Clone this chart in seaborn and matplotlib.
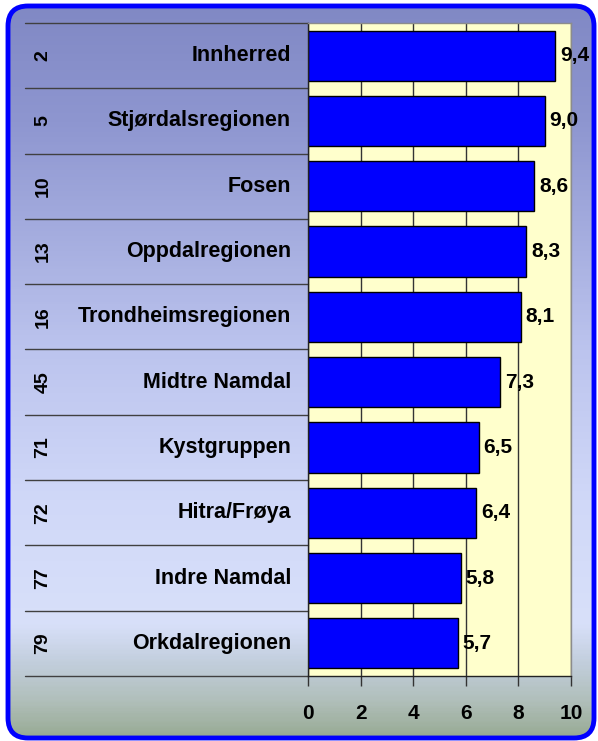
import numpy as np
import seaborn as sns
import matplotlib.pyplot as plt
import matplotlib.transforms as mtransforms
from matplotlib.patches import FancyBboxPatch
from matplotlib.colors import LinearSegmentedColormap

# --- data ---
ranks = ["2", "5", "10", "13", "16", "45", "71", "72", "77", "79"]
regions = ["Innherred", "Stjørdalsregionen", "Fosen", "Oppdalregionen",
           "Trondheimsregionen", "Midtre Namdal", "Kystgruppen", "Hitra/Frøya",
           "Indre Namdal", "Orkdalregionen"]
scores = [9.4, 9.0, 8.6, 8.3, 8.1, 7.3, 6.5, 6.4, 5.8, 5.7]
x_ticks = [0, 2, 4, 6, 8, 10]

sns.set_theme(style="white")
plt.rcParams['font.family'] = ['Liberation Sans', 'DejaVu Sans']
plt.rcParams['text.color'] = 'black'
plt.rcParams['xtick.color'] = 'black'
plt.rcParams['xtick.labelcolor'] = 'black'

W, H = 598, 741
fig = plt.figure(figsize=(W / 100, H / 100), dpi=100)
fig.patch.set_facecolor("white")

# --- background panel with gradient and rounded blue frame ---
bg = fig.add_axes([0, 0, 1, 1], zorder=0)
bg.set_xlim(0, W)
bg.set_ylim(H, 0)
bg.axis("off")

stops = [(0.0, "#8088c4"), (120 / H, "#8e96d0"), (350 / H, "#bcc4ee"),
         (500 / H, "#d0d8f8"), (625 / H, "#d8e0fa"), (665 / H, "#c2cedc"),
         (705 / H, "#afbeb8"), (1.0, "#96a992")]
cmap = LinearSegmentedColormap.from_list("panel", stops)
grad = np.linspace(0, 1, 400).reshape(-1, 1)
img = bg.imshow(grad, cmap=cmap, aspect="auto", extent=(0, W, H, 0))

frame = FancyBboxPatch((8, 6), W - 12, H - 9,
                       boxstyle="round,pad=0,rounding_size=20",
                       facecolor="none", edgecolor="#0000ff", linewidth=3.5)
bg.add_patch(frame)
img.set_clip_path(frame)

# --- bar chart ---
left, right, top, bottom = 308, 571, 23, 676
ax = fig.add_axes([left / W, (H - bottom) / H, (right - left) / W, (bottom - top) / H], zorder=1)
ax.set_facecolor("#ffffcc")

sns.barplot(x=scores, y=regions, orient="h", color="#0000ff", saturation=1,
            edgecolor="black", linewidth=1, width=0.77, ax=ax)

ax.set_xlim(0, 10)
ax.set_ylim(9.5, -0.5)
ax.set_xticks(x_ticks)
ax.set_xticklabels([str(t) for t in x_ticks], fontsize=15, fontweight="bold")
ax.tick_params(axis="x", direction="out", length=7, width=1, color="#333333",
               labelcolor="black", pad=13, bottom=True)
ax.set_yticks([])
ax.set_xlabel("")
ax.set_ylabel("")

ax.set_axisbelow(True)
ax.xaxis.grid(True, color="#333333", linewidth=1)
ax.yaxis.grid(False)
for side in ["top", "right"]:
    ax.spines[side].set_color("#8c8c8c")
    ax.spines[side].set_linewidth(1)
for side in ["left", "bottom"]:
    ax.spines[side].set_color("#222222")
    ax.spines[side].set_linewidth(1)

# value labels
for i, v in enumerate(scores):
    ax.text(v + 0.18, i, f"{v:.1f}".replace(".", ","), ha="left", va="center",
            fontsize=15, fontweight="bold", color="black", zorder=5)

# table on the left: ranks, region names, separators
trans = mtransforms.blended_transform_factory(fig.transFigure, ax.transData)
for i, (rk, name) in enumerate(zip(ranks, regions)):
    ax.text(291 / W, i, name, transform=trans, ha="right", va="center",
            fontsize=15.5, fontweight="bold", color="black", clip_on=False)
    ax.text(43 / W, i, rk, transform=trans, ha="center", va="center",
            fontsize=14, fontweight="bold", color="black", rotation=90, clip_on=False)

for b in np.arange(-0.5, len(regions), 1.0):
    ax.plot([25 / W, left / W], [b, b], transform=trans, color="#404040",
            linewidth=1, clip_on=False)

fig.savefig("out.png", dpi=100)
